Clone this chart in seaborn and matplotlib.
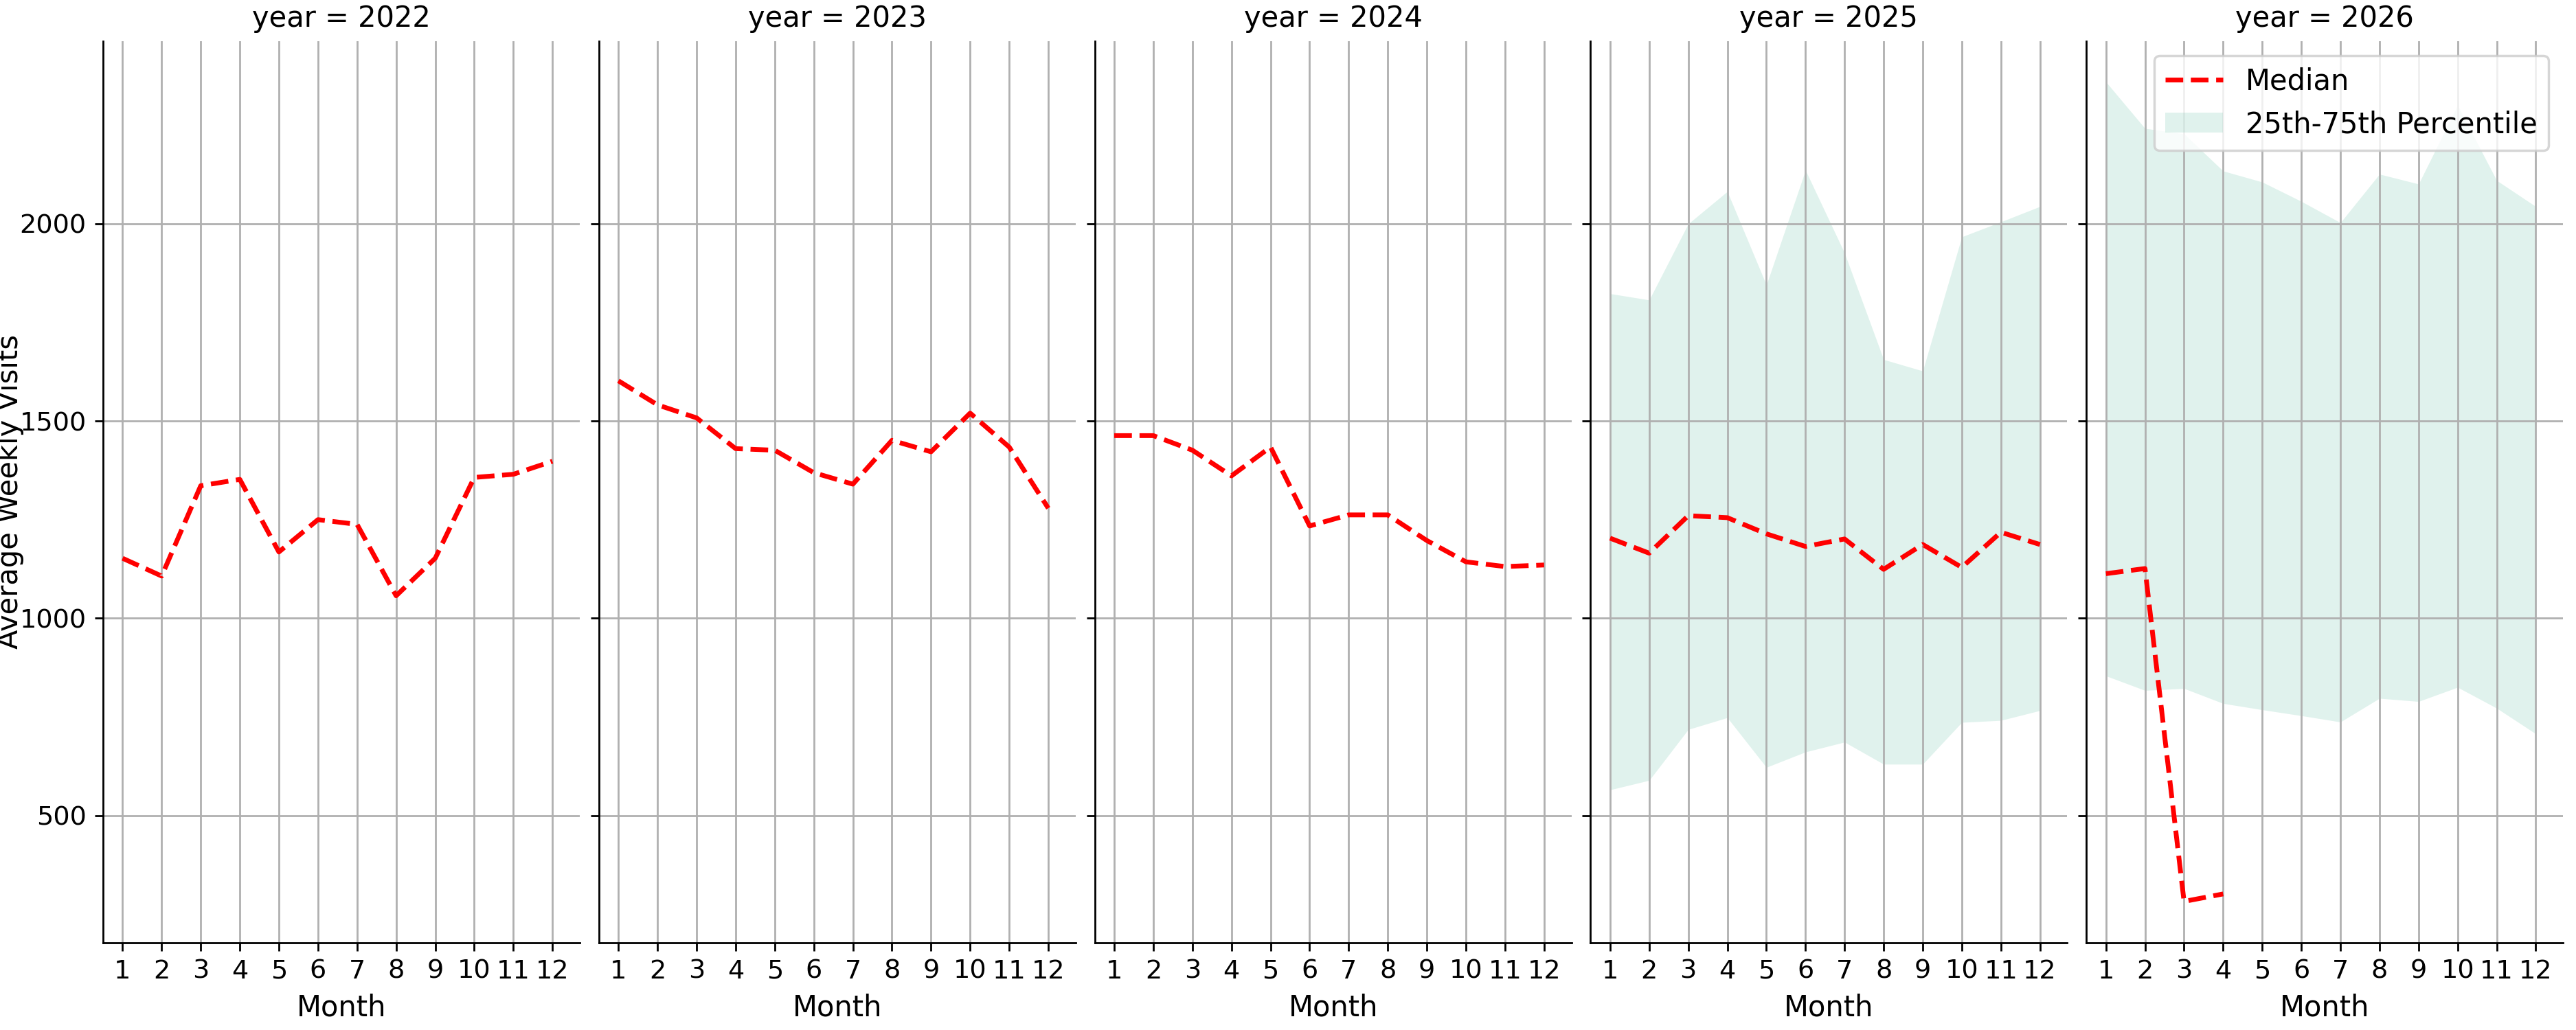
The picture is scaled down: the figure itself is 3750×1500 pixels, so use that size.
import numpy as np
import pandas as pd
import matplotlib
matplotlib.use("Agg")
import matplotlib.pyplot as plt
import seaborn as sns

years = [2022, 2023, 2024, 2025, 2026]
months = list(range(1, 13))
median = {
    2022: [1152, 1107, 1336, 1352, 1168, 1250, 1238, 1057, 1152, 1357, 1365, 1398],
    2023: [1602, 1541, 1508, 1430, 1426, 1369, 1340, 1451, 1422, 1520, 1434, 1279],
    2024: [1463, 1463, 1426, 1361, 1434, 1234, 1262, 1262, 1197, 1143, 1131, 1135],
    2025: [1203, 1165, 1260, 1255, 1214, 1182, 1201, 1124, 1187, 1129, 1218, 1187],
    2026: [1113, 1126, 282, 301] + [np.nan] * 8,
}
p25 = {
    2025: [565, 589, 718, 748, 622, 661, 686, 630, 630, 736, 741, 766],
    2026: [854, 817, 822, 784, 768, 753, 737, 797, 789, 825, 772, 707],
}
p75 = {
    2025: [1823, 1807, 2000, 2082, 1845, 2136, 1926, 1656, 1627, 1967, 2005, 2044],
    2026: [2360, 2242, 2228, 2134, 2106, 2057, 2003, 2126, 2101, 2300, 2110, 2044],
}

rows = []
for y in years:
    for i, m in enumerate(months):
        rows.append(dict(year=y, Month=m, median=median[y][i],
                         p25=p25.get(y, [np.nan] * 12)[i],
                         p75=p75.get(y, [np.nan] * 12)[i]))
df = pd.DataFrame(rows)

g = sns.FacetGrid(df, col="year", sharey=True, height=6, aspect=0.5)
g.figure.set_size_inches(15, 6)

def draw(data, **kw):
    ax = plt.gca()
    d = data.dropna(subset=["p25"])
    if len(d):
        ax.fill_between(d["Month"], d["p25"], d["p75"], color="#66c2a5", alpha=0.2,
                        linewidth=0, label="25th-75th Percentile")
    ax.plot(data["Month"], data["median"], color="red", linestyle="--", linewidth=2, label="Median")

g.map_dataframe(draw)
g.set_titles("year = {col_name}", size=12)
g.set_axis_labels("Month", "Average Weekly Visits", fontsize=12)
for ax in g.axes.flat:
    ax.set_xticks(months)
    ax.set_yticks([500, 1000, 1500, 2000])
    ax.grid(True, color="#b0b0b0", linewidth=0.8)
    ax.tick_params(labelsize=11)
    ax.set_xlim(0.5, 12.7)
ax0 = g.axes.flat[0]
ax0.set_ylim(178, 2463)
ax0.yaxis.set_label_coords(-0.165, 0.5)
last = g.axes.flat[-1]
h, l = last.get_legend_handles_labels()
order = [l.index("Median"), l.index("25th-75th Percentile")]
last.legend([h[i] for i in order], [l[i] for i in order], loc="upper right", fontsize=12)
g.figure.subplots_adjust(left=0.04, right=0.995, bottom=0.085, top=0.96, wspace=0.04)
g.figure.savefig("out.png", dpi=250)
